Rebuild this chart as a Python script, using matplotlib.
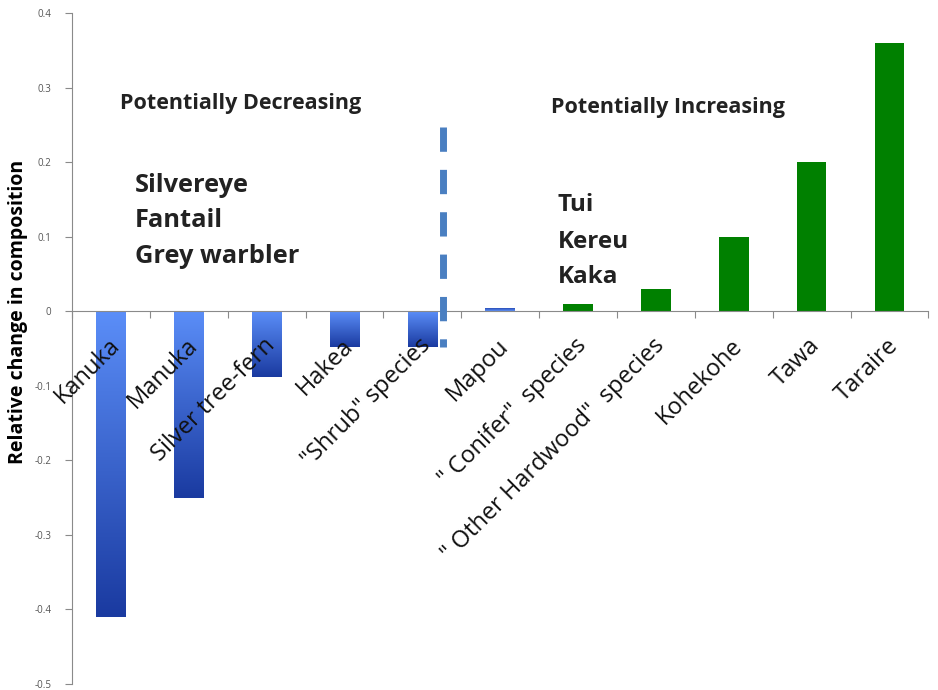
import numpy as np
import matplotlib
matplotlib.use("Agg")
import matplotlib.pyplot as plt
import matplotlib.transforms as mtransforms
from matplotlib.colors import LinearSegmentedColormap

species = ["Kanuka", "Manuka", "Silver tree-fern", "Hakea", '"Shrub" species',
           "Mapou", '" Conifer"  species', '" Other Hardwood"  species',
           "Kohekohe", "Tawa", "Taraire"]
change = [-0.41, -0.25, -0.088, -0.048, -0.048, 0.005, 0.01, 0.03, 0.10, 0.20, 0.36]
blue_bars = ["Kanuka", "Manuka", "Silver tree-fern", "Hakea", '"Shrub" species', "Mapou"]
decreasing_birds = ["Silvereye", "Fantail", "Grey warbler"]
increasing_birds = ["Tui", "Kereu", "Kaka"]
yticks = [0.4, 0.3, 0.2, 0.1, 0, -0.1, -0.2, -0.3, -0.4, -0.5]

plt.rcParams["font.family"] = ["Open Sans", "DejaVu Sans"]

fig = plt.figure(figsize=(9.38, 6.9), dpi=100)
ax = fig.add_axes([0.0768, 0.0087, 0.913, 0.9723])

x = np.arange(len(species))
width = 0.38
blue_map = LinearSegmentedColormap.from_list("blu", ["#5b8ef8", "#1a3aa0"])

for xi, name, val in zip(x, species, change):
    if name in blue_bars:
        bar = ax.bar(xi, val, width=width, color="none", edgecolor="none", zorder=2)[0]
        y0, y1 = sorted([0, val])
        grad = np.linspace(0, 1, 256).reshape(-1, 1)
        if val > 0:
            grad = grad[::-1]
        im = ax.imshow(grad, cmap=blue_map, aspect="auto", zorder=2,
                       extent=[xi - width / 2, xi + width / 2, y0, y1],
                       origin="upper")
        im.set_clip_path(bar)
    else:
        ax.bar(xi, val, width=width, color="#008000", zorder=2)

ax.set_xlim(-0.5, len(species) - 0.5)
ax.set_ylim(-0.5, 0.4)

# divider between decreasing and increasing groups (drawn top-down so dashes start at top)
ax.plot([4.27, 4.27], [0.247, -0.048], ls=(0, (3.5, 2.6)), lw=5,
        color="#4a7fc1", zorder=3, solid_capstyle="butt", dash_capstyle="butt")

ax.spines["top"].set_visible(False)
ax.spines["right"].set_visible(False)
ax.spines["bottom"].set_position(("data", 0))
ax.spines["bottom"].set_color("#8a8a8a")
ax.spines["left"].set_color("#8a8a8a")

ax.set_yticks(yticks)
ax.set_yticklabels([f"{v:g}" for v in yticks], fontsize=7, color="#555555")
ax.tick_params(axis="y", direction="out", length=5, color="#8a8a8a", pad=10)

ax.set_xticks(np.arange(-0.5, len(species), 1.0))
ax.set_xticklabels([])
ax.tick_params(axis="x", direction="out", length=5, color="#8a8a8a")

offset = mtransforms.ScaledTranslation(-0.035, -0.225, fig.dpi_scale_trans)
for xi, name in zip(x, species):
    ax.text(xi, 0, name, rotation=45, rotation_mode="anchor", ha="right", va="top",
            fontsize=17, color="#111111", zorder=4,
            transform=ax.transData + offset)

ax.set_ylabel("Relative change in composition", fontsize=14, fontweight="bold")
ax.yaxis.set_label_coords(-0.052, 0.554)

ax.text(0.12, 0.279, "Potentially Decreasing", fontsize=15.5, fontweight="bold",
        color="#222222", va="center")
ax.text(5.65, 0.273, "Potentially Increasing", fontsize=15.5, fontweight="bold",
        color="#222222", va="center")
for yv, bird in zip([0.169, 0.122, 0.073], decreasing_birds):
    ax.text(0.31, yv, bird, fontsize=18.3, fontweight="bold", color="#222222", va="center")
for yv, bird in zip([0.142, 0.093, 0.046], increasing_birds):
    ax.text(5.74, yv, bird, fontsize=17.5, fontweight="bold", color="#222222", va="center")

fig.savefig("out.png", dpi=100)
